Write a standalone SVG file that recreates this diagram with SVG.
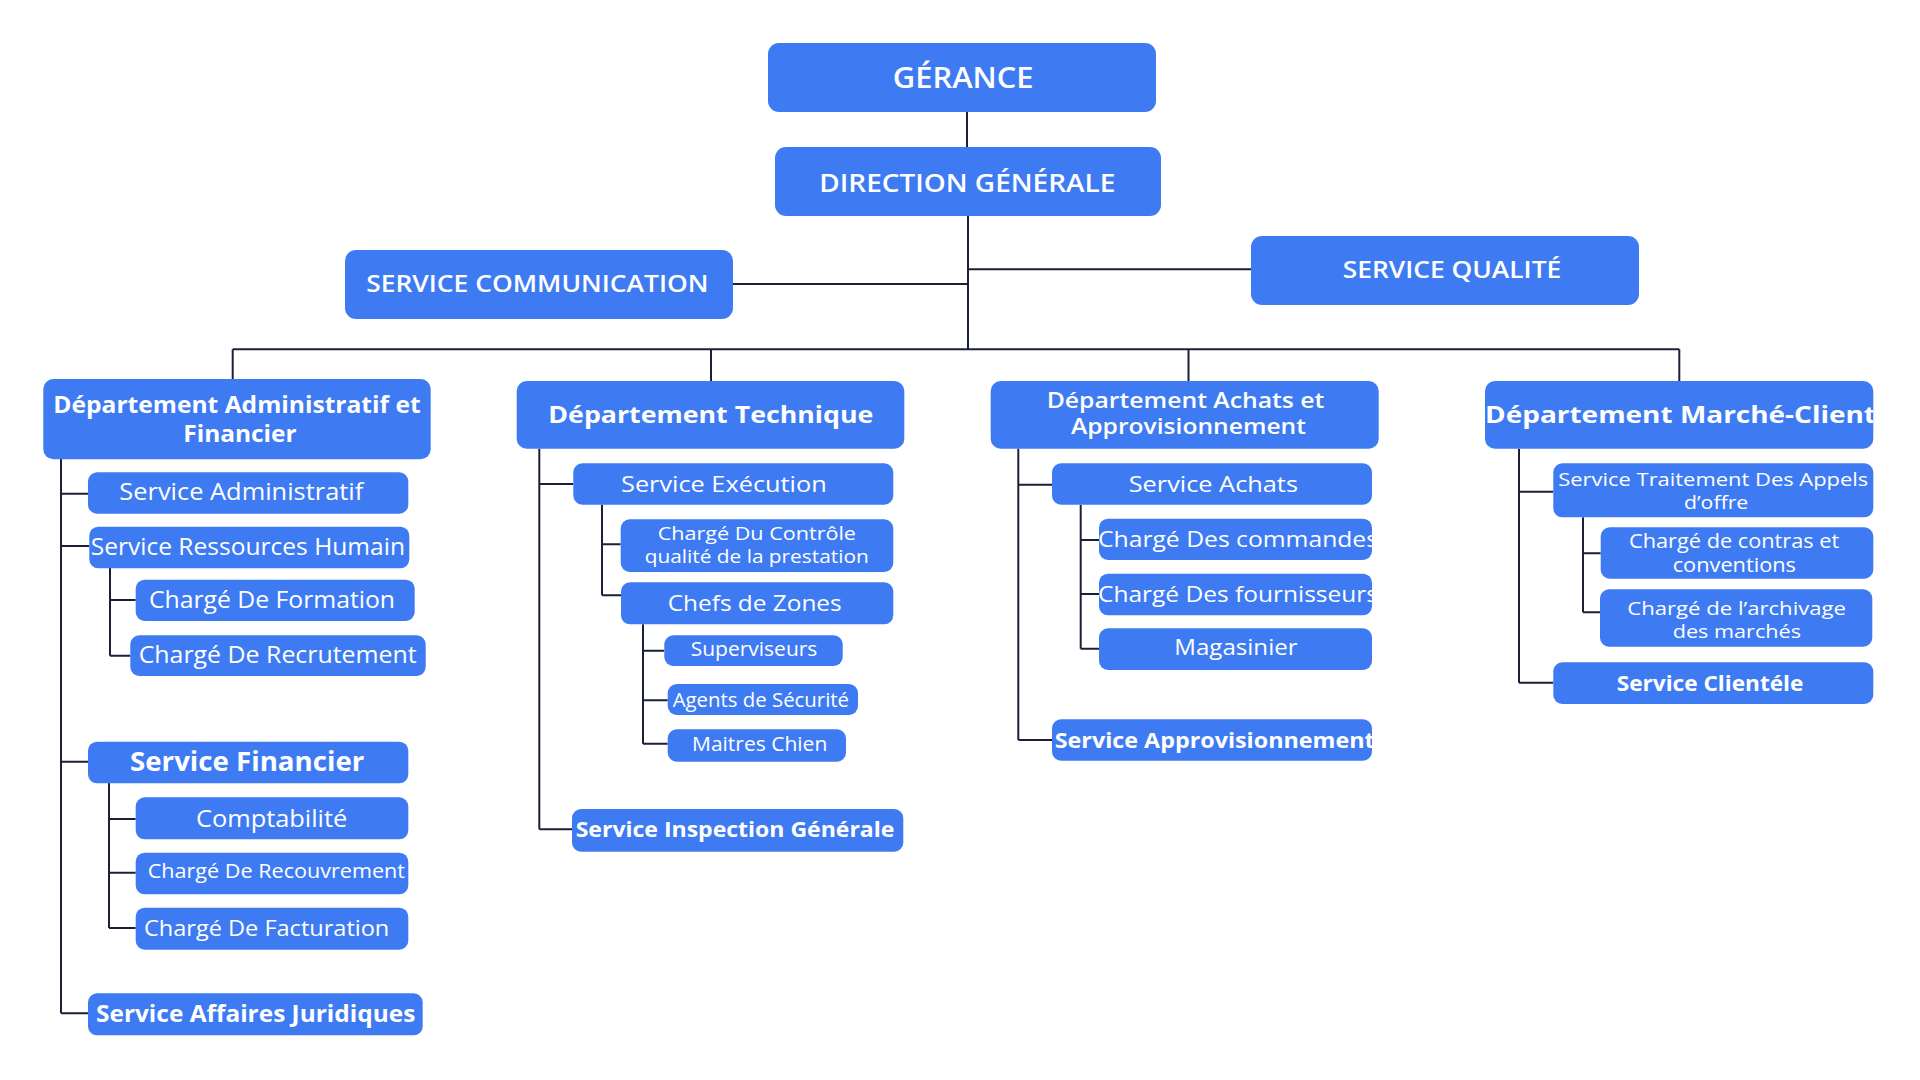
<svg xmlns="http://www.w3.org/2000/svg" width="1920" height="1080" viewBox="0 0 1920 1080">
<style>
.box{fill:#3E7BF2}
.t{fill:#FFFFFF;font-family:"Open Sans","Liberation Sans",sans-serif;font-weight:400}
.m{font-weight:600}
.b{font-weight:700}
.conn{stroke:#1C1F3A;stroke-width:2;fill:none}
</style>
<defs>
<clipPath id="c-d4"><rect x="1485" y="381" width="388.3" height="67.7" rx="10"/></clipPath>
<clipPath id="c-d3a1"><rect x="1099" y="518.7" width="273" height="41.3" rx="9"/></clipPath>
<clipPath id="c-d3a2"><rect x="1099" y="573.7" width="273" height="41.6" rx="9"/></clipPath>
<clipPath id="c-d3b"><rect x="1052" y="719.3" width="320" height="41.4" rx="9"/></clipPath>
</defs>
<rect width="1920" height="1080" fill="#FFFFFF"/>
<g id="connectors" class="conn">
<path d="M967 112V147"/>
<path d="M968 216V350"/>
<path d="M733 284H968"/>
<path d="M968 269.3H1251"/>
<path d="M232.7 349.3H1679.3"/>
<path d="M232.7 349.3V379"/>
<path d="M711 349.3V381"/>
<path d="M1188.5 349.3V381"/>
<path d="M1679.3 349.3V381"/>
<path d="M61 459V1013.3"/>
<path d="M61 493.7H88M61 546H89.3M61 761.7H88M61 1013.3H88"/>
<path d="M110 568V655.7M110 600H135.7M110 655.7H130.3"/>
<path d="M109 783V928M109 819H135.7M109 872.7H135.7M109 928H135.7"/>
<path d="M539.3 448.7V829.3M539.3 484H573.3M539.3 829.3H572"/>
<path d="M602 504.7V595.3M602 544.3H620.7M602 595.3H621"/>
<path d="M643 624.3V743.7M643 650.7H664.3M643 700.3H667.7M643 743.7H667.7"/>
<path d="M1018.3 448.7V740M1018.3 484.7H1052M1018.3 740H1052"/>
<path d="M1080.7 504.7V648.7M1080.7 540H1099M1080.7 594H1099M1080.7 648.7H1099"/>
<path d="M1519 448.7V682.7M1519 491.7H1553.3M1519 682.7H1553.3"/>
<path d="M1583 517.3V612.3M1583 553.3H1600.7M1583 612.3H1600"/>
</g>
<g id="gerance"><rect class="box" x="768" y="43" width="388" height="69" rx="11"/><text class="t m" x="892.8" y="88.3" font-size="28" textLength="140.7" lengthAdjust="spacingAndGlyphs">GÉRANCE</text></g>
<g id="direction-generale"><rect class="box" x="775" y="147" width="386" height="69" rx="11"/><text class="t m" x="819.3" y="192.3" font-size="25" textLength="296" lengthAdjust="spacingAndGlyphs">DIRECTION GÉNÉRALE</text></g>
<g id="service-communication"><rect class="box" x="345" y="250" width="388" height="69" rx="11"/><text class="t m" x="366.2" y="292.3" font-size="24" textLength="342.3" lengthAdjust="spacingAndGlyphs">SERVICE COMMUNICATION</text></g>
<g id="service-qualite"><rect class="box" x="1251" y="236" width="388" height="69" rx="11"/><text class="t m" x="1342.7" y="278.3" font-size="24" textLength="218.6" lengthAdjust="spacingAndGlyphs">SERVICE QUALITÉ</text></g>

<g id="dept-admin-fin"><rect class="box" x="43.3" y="379" width="387.4" height="80.3" rx="10"/><text class="t b" x="53.3" y="413.3" font-size="23" textLength="367.3" lengthAdjust="spacingAndGlyphs">Département Administratif et</text><text class="t b" x="183.3" y="441.7" font-size="23" textLength="113.3" lengthAdjust="spacingAndGlyphs">Financier</text></g>
<g id="service-administratif"><rect class="box" x="88" y="472.3" width="320.3" height="41.4" rx="9"/><text class="t" x="119.3" y="500" font-size="23" textLength="244" lengthAdjust="spacingAndGlyphs">Service Administratif</text></g>
<g id="service-rh"><rect class="box" x="89.3" y="526.7" width="320" height="41.6" rx="9"/><text class="t" x="90.7" y="555" font-size="23" textLength="314.3" lengthAdjust="spacingAndGlyphs">Service Ressources Humain</text></g>
<g id="charge-formation"><rect class="box" x="135.7" y="579.7" width="279" height="41.3" rx="9"/><text class="t" x="149" y="608.3" font-size="23" textLength="246" lengthAdjust="spacingAndGlyphs">Chargé De Formation</text></g>
<g id="charge-recrutement"><rect class="box" x="130.3" y="635.3" width="295.4" height="40.7" rx="9"/><text class="t" x="138.7" y="663.3" font-size="23" textLength="278" lengthAdjust="spacingAndGlyphs">Chargé De Recrutement</text></g>
<g id="service-financier"><rect class="box" x="88" y="741.7" width="320.3" height="41.6" rx="9"/><text class="t b" x="130" y="771" font-size="26" textLength="234.3" lengthAdjust="spacingAndGlyphs">Service Financier</text></g>
<g id="comptabilite"><rect class="box" x="135.7" y="797.3" width="272.6" height="42" rx="9"/><text class="t" x="196" y="826.7" font-size="23" textLength="151.3" lengthAdjust="spacingAndGlyphs">Comptabilité</text></g>
<g id="charge-recouvrement"><rect class="box" x="135.7" y="852.7" width="272.6" height="41.6" rx="9"/><text class="t" x="147.7" y="878.3" font-size="20" textLength="257.3" lengthAdjust="spacingAndGlyphs">Chargé De Recouvrement</text></g>
<g id="charge-facturation"><rect class="box" x="135.7" y="907.7" width="272.6" height="42" rx="9"/><text class="t" x="144" y="936" font-size="22" textLength="245.3" lengthAdjust="spacingAndGlyphs">Chargé De Facturation</text></g>
<g id="service-juridiques"><rect class="box" x="88" y="993.3" width="334.7" height="42" rx="9"/><text class="t b" x="96" y="1021.7" font-size="23" textLength="319.3" lengthAdjust="spacingAndGlyphs">Service Affaires Juridiques</text></g>

<g id="dept-technique"><rect class="box" x="516.7" y="381" width="387.6" height="67.7" rx="10"/><text class="t b" x="548.3" y="423.3" font-size="24" textLength="325" lengthAdjust="spacingAndGlyphs">Département Technique</text></g>
<g id="service-execution"><rect class="box" x="573.3" y="463.3" width="320" height="41.4" rx="9"/><text class="t" x="621" y="491.7" font-size="22" textLength="205.7" lengthAdjust="spacingAndGlyphs">Service Exécution</text></g>
<g id="charge-controle"><rect class="box" x="620.7" y="519.3" width="272.6" height="52.7" rx="9"/><text class="t" x="657.7" y="540" font-size="18.5" textLength="198.3" lengthAdjust="spacingAndGlyphs">Chargé Du Contrôle</text><text class="t" x="644.7" y="562.7" font-size="18.5" textLength="224" lengthAdjust="spacingAndGlyphs">qualité de la prestation</text></g>
<g id="chefs-zones"><rect class="box" x="621" y="582.3" width="272.3" height="42" rx="9"/><text class="t" x="667.7" y="610.7" font-size="22" textLength="174" lengthAdjust="spacingAndGlyphs">Chefs de Zones</text></g>
<g id="superviseurs"><rect class="box" x="664.3" y="635.3" width="178.4" height="30.7" rx="9"/><text class="t" x="690.7" y="656" font-size="20" textLength="126.7" lengthAdjust="spacingAndGlyphs">Superviseurs</text></g>
<g id="agents-securite"><rect class="box" x="667.7" y="684" width="190.3" height="31" rx="9"/><text class="t" x="672.7" y="706.7" font-size="20" textLength="176.3" lengthAdjust="spacingAndGlyphs">Agents de Sécurité</text></g>
<g id="maitres-chien"><rect class="box" x="667.7" y="729.3" width="178.3" height="32.4" rx="9"/><text class="t" x="692" y="750.7" font-size="20" textLength="135.3" lengthAdjust="spacingAndGlyphs">Maitres Chien</text></g>
<g id="service-inspection"><rect class="box" x="572" y="809" width="331.3" height="42.7" rx="9"/><text class="t b" x="575.7" y="837.3" font-size="22" textLength="318.7" lengthAdjust="spacingAndGlyphs">Service Inspection Générale</text></g>

<g id="dept-achats"><rect class="box" x="990.7" y="381" width="388" height="67.7" rx="10"/><text class="t m" x="1046.7" y="407.7" font-size="22" textLength="277.7" lengthAdjust="spacingAndGlyphs">Département Achats et</text><text class="t m" x="1071" y="434" font-size="22" textLength="235" lengthAdjust="spacingAndGlyphs">Approvisionnement</text></g>
<g id="service-achats"><rect class="box" x="1052" y="463.3" width="320" height="41.4" rx="9"/><text class="t" x="1128.7" y="491.7" font-size="22" textLength="169.3" lengthAdjust="spacingAndGlyphs">Service Achats</text></g>
<g id="charge-commandes"><rect class="box" x="1099" y="518.7" width="273" height="41.3" rx="9"/><text class="t" x="1098" y="546.7" font-size="22" textLength="280" lengthAdjust="spacingAndGlyphs" clip-path="url(#c-d3a1)">Chargé Des commandes</text></g>
<g id="charge-fournisseurs"><rect class="box" x="1099" y="573.7" width="273" height="41.6" rx="9"/><text class="t" x="1098" y="602.3" font-size="22" textLength="280" lengthAdjust="spacingAndGlyphs" clip-path="url(#c-d3a2)">Chargé Des fournisseurs</text></g>
<g id="magasinier"><rect class="box" x="1099" y="628.3" width="273" height="41.7" rx="9"/><text class="t" x="1174.3" y="655" font-size="22" textLength="123.3" lengthAdjust="spacingAndGlyphs">Magasinier</text></g>
<g id="service-approvisionnement"><rect class="box" x="1052" y="719.3" width="320" height="41.4" rx="9"/><text class="t b" x="1054.7" y="747.7" font-size="22" textLength="320" lengthAdjust="spacingAndGlyphs" clip-path="url(#c-d3b)">Service Approvisionnement</text></g>

<g id="dept-marche-client"><rect class="box" x="1485" y="381" width="388.3" height="67.7" rx="10"/><text class="t b" x="1485" y="423.3" font-size="24" textLength="391" lengthAdjust="spacingAndGlyphs" clip-path="url(#c-d4)">Département Marché-Client</text></g>
<g id="service-appels-offre"><rect class="box" x="1553.3" y="463.3" width="320" height="54" rx="9"/><text class="t" x="1558.3" y="486" font-size="19" textLength="310" lengthAdjust="spacingAndGlyphs">Service Traitement Des Appels</text><text class="t" x="1684" y="509.3" font-size="19" textLength="64.3" lengthAdjust="spacingAndGlyphs">d’offre</text></g>
<g id="charge-contras"><rect class="box" x="1600.7" y="527.3" width="272.6" height="51.4" rx="9"/><text class="t" x="1629" y="548.3" font-size="20" textLength="210.3" lengthAdjust="spacingAndGlyphs">Chargé de contras et</text><text class="t" x="1672.7" y="571.7" font-size="20" textLength="123.3" lengthAdjust="spacingAndGlyphs">conventions</text></g>
<g id="charge-archivage"><rect class="box" x="1600" y="589.3" width="272.3" height="57.4" rx="9"/><text class="t" x="1627.3" y="615" font-size="18.5" textLength="218.7" lengthAdjust="spacingAndGlyphs">Chargé de l’archivage</text><text class="t" x="1672.7" y="637.7" font-size="18.5" textLength="128.3" lengthAdjust="spacingAndGlyphs">des marchés</text></g>
<g id="service-clientele"><rect class="box" x="1553.3" y="662.3" width="320" height="41.7" rx="9"/><text class="t b" x="1616.7" y="691" font-size="22" textLength="186.7" lengthAdjust="spacingAndGlyphs">Service Clientéle</text></g>
</svg>
